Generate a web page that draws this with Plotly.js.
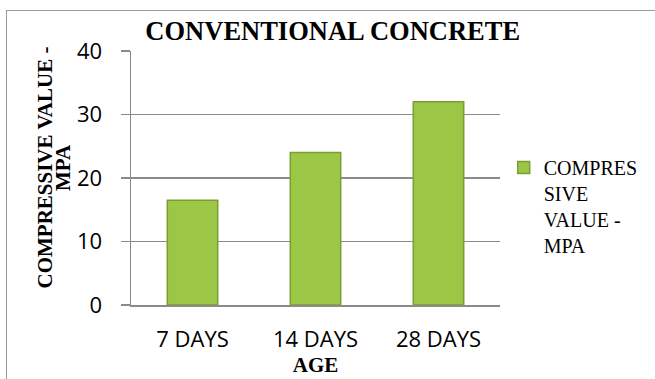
<!DOCTYPE html>
<html>
<head>
<meta charset="utf-8">
<script src="https://cdn.plot.ly/plotly-3.0.1.min.js"></script>
<style>
  html, body { margin: 0; padding: 0; background: #fff; overflow: hidden; }
  #wrap { position: relative; width: 655px; height: 379px; }
  #chart { position: absolute; left: 0; top: 0; width: 655px; height: 379px; }
  /* chart-area frame, open to the right and bottom */
  #frame {
    position: absolute; left: 6px; top: 10px; width: 700px; height: 420px;
    border-left: 1.5px solid #9a9a9a; border-top: 1.5px solid #9a9a9a;
    pointer-events: none;
  }
</style>
</head>
<body>
<div id="wrap">
  <div id="chart"></div>
  <div id="frame"></div>
</div>
<script>
// Compressive strength of conventional concrete by curing age
const ages = ['7 DAYS', '14 DAYS', '28 DAYS'];
const strengthMPa = [16.5, 24, 32];
const yTicks = [0, 10, 20, 30, 40];

const serif = 'Liberation Serif, Times New Roman, serif';
const sans = 'Open Sans, sans-serif';

const trace = {
  type: 'bar',
  x: ages,
  y: strengthMPa,
  name: 'COMPRES<br>SIVE<br>VALUE -<br>MPA',
  width: 0.41,
  marker: {
    color: '#9cc646',
    line: { color: '#7a9e34', width: 1.5 }
  },
  hoverinfo: 'x+y'
};

const layout = {
  width: 655,
  height: 379,
  margin: { l: 131, r: 148, t: 51, b: 74 },
  paper_bgcolor: '#fff',
  plot_bgcolor: '#fff',
  showlegend: true,
  title: {
    text: '<b>CONVENTIONAL CONCRETE</b>',
    font: { family: serif, size: 26.5, color: '#000' },
    x: 0.508, xref: 'container', xanchor: 'center',
    y: 0.918, yref: 'container', yanchor: 'middle'
  },
  xaxis: {
    type: 'category',
    showline: true, linecolor: '#8a8a8a', linewidth: 1.5,
    ticks: '', showgrid: false,
    tickfont: { family: sans, size: 22, color: '#000' },
    ticklabelstandoff: 14,
    title: {
      text: '<b>AGE</b>',
      font: { family: serif, size: 21, color: '#000' },
      standoff: 2
    }
  },
  yaxis: {
    range: [0, 40],
    tickvals: yTicks,
    ticktext: yTicks.map(String),
    showline: true, linecolor: '#8a8a8a', linewidth: 1.5,
    ticks: 'outside', ticklen: 9, tickcolor: '#8a8a8a', tickwidth: 1.5,
    showgrid: true, gridcolor: '#8a8a8a', gridwidth: 1.5,
    zeroline: false,
    tickfont: { family: sans, size: 22, color: '#000' },
    ticklabelstandoff: 14
  },
  legend: {
    x: 1.01, xanchor: 'left',
    y: 0.618, yanchor: 'top',
    valign: 'top',
    font: { family: serif, size: 20, color: '#000' },
    bgcolor: 'rgba(0,0,0,0)',
    borderwidth: 0
  },
  annotations: [
    {
      text: '<b>COMPRESSIVE VALUE -</b>',
      textangle: -90,
      xref: 'paper', yref: 'paper',
      x: (43 - 131) / 376, y: 0.54,
      xanchor: 'center', yanchor: 'middle',
      showarrow: false,
      font: { family: serif, size: 21, color: '#000' }
    },
    {
      text: '<b>MPA</b>',
      textangle: -90,
      xref: 'paper', yref: 'paper',
      x: (62 - 131) / 376, y: 0.54,
      xanchor: 'center', yanchor: 'middle',
      showarrow: false,
      font: { family: serif, size: 21, color: '#000' }
    }
  ],
  bargap: 0.59
};

Plotly.newPlot('chart', [trace], layout, { displayModeBar: false, staticPlot: true });
</script>
</body>
</html>
